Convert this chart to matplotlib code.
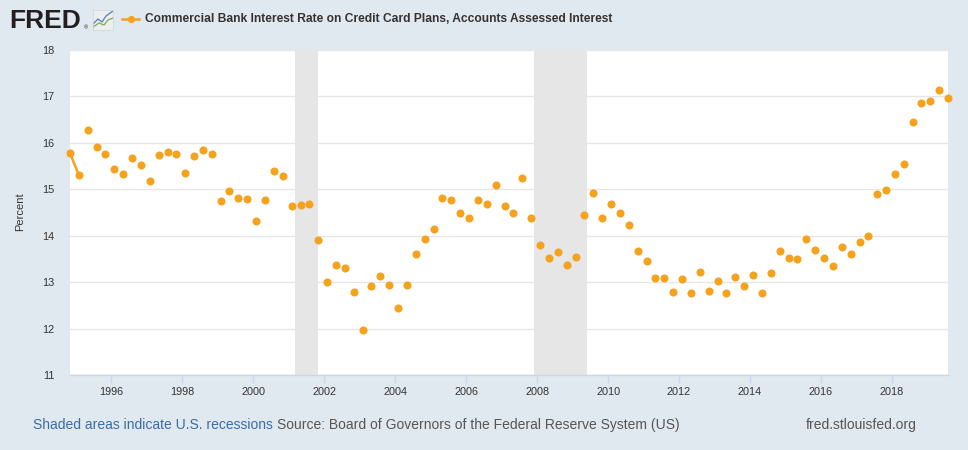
import matplotlib
matplotlib.use("Agg")
import matplotlib.pyplot as plt
import matplotlib.dates as mdates
import numpy as np
import pandas as pd

# Quarterly observations, Nov 1994 .. Aug 2019 (percent)
start_date = "1994-11-01"
rates = [
    15.78, 15.30, 16.27, 15.91, 15.75, 15.43, 15.34, 15.68, 15.53, 15.17,
    15.73, 15.80, 15.75, 15.35, 15.71, 15.85, 15.75, 14.75, 14.96, 14.82,
    14.80, 14.32, 14.78, 15.39, 15.28, 14.65, 14.67, 14.69, 13.91, 13.01,
    13.37, 13.30, 12.79, 11.98, 12.91, 13.14, 12.94, 12.44, 12.94, 13.61,
    13.93, 14.14, 14.82, 14.76, 14.50, 14.39, 14.78, 14.68, 15.09, 14.65,
    14.48, 15.24, 14.39, 13.79, 13.52, 13.65, 13.37, 13.55, 14.45, 14.92,
    14.39, 14.69, 14.50, 14.24, 13.68, 13.45, 13.08, 13.09, 12.79, 13.06,
    12.77, 13.22, 12.82, 13.03, 12.77, 13.12, 12.91, 13.15, 12.76, 13.19,
    13.68, 13.53, 13.50, 13.93, 13.70, 13.51, 13.35, 13.76, 13.61, 13.86,
    14.00, 14.90, 14.99, 15.32, 15.54, 16.46, 16.86, 16.91, 17.14, 16.97,
]
recessions = [("2001-03-01", "2001-11-01"), ("2007-12-01", "2009-06-01")]
tick_years = list(range(1996, 2019, 2))
y_ticks = list(range(11, 19))

title = "Commercial Bank Interest Rate on Credit Card Plans, Accounts Assessed Interest"
note = "Shaded areas indicate U.S. recessions"
source = "Source: Board of Governors of the Federal Reserve System (US)"
site = "fred.stlouisfed.org"

dates = pd.date_range(start_date, periods=len(rates), freq="3MS")
values = np.array(rates)

bg = "#e1e9f0"
orange = "#f5a21d"
plt.rcParams["font.family"] = ["Liberation Sans", "DejaVu Sans"]

fig = plt.figure(figsize=(9.68, 4.5), dpi=100, facecolor=bg)
ax = fig.add_axes([70 / 968, 1 - 375 / 450, 878 / 968, 325 / 450])
ax.set_facecolor("white")

for a, b in recessions:
    ax.axvspan(pd.Timestamp(a), pd.Timestamp(b), color="#e6e6e6", lw=0, zorder=1)

# only the first two observations are adjacent, the rest show as dots
ax.plot(dates[:2], values[:2], color=orange, lw=1.8, zorder=3, clip_on=False)
ax.plot(dates, values, ls="none", marker="o", ms=4.8, color=orange,
        mec=orange, zorder=4, clip_on=False)

ax.set_xlim(dates[0], dates[-1])
ax.set_ylim(11, 18)
ax.set_yticks(y_ticks)
ax.set_xticks([pd.Timestamp(f"{y}-01-01") for y in tick_years])
ax.xaxis.set_major_formatter(mdates.DateFormatter("%Y"))
ax.grid(axis="y", color="#e6e6e6", lw=1)
ax.set_axisbelow(True)
for s in ["top", "right", "left"]:
    ax.spines[s].set_visible(False)
ax.spines["bottom"].set_color("#ccd6eb")
ax.spines["bottom"].set_linewidth(1)
ax.tick_params(axis="y", length=0, pad=11, labelsize=7.8, labelcolor="#333333")
ax.tick_params(axis="x", length=6, width=1, color="#ccd6eb", pad=2.5,
               labelsize=7.8, labelcolor="#333333")
fig.text(20 / 968, 1 - 212 / 450, "Percent", rotation=90, fontsize=8,
         color="#333333", ha="center", va="center")

# header
fig.text(9 / 968, 1 - 20.5 / 450, "FRED", fontsize=19, fontweight="bold",
         color="#231f20", va="center")
fig.text(84 / 968, 1 - 28 / 450, "®", fontsize=4, color="#231f20", va="center")
icon = fig.add_axes([93 / 968, 1 - 30 / 450, 20 / 968, 20 / 450])
icon.set_facecolor("#eceef0")
icon.plot([0, 0.25, 0.45, 0.65, 1], [0.3, 0.55, 0.4, 0.7, 0.95], color="#4f80c0", lw=0.9)
icon.plot([0, 0.3, 0.55, 0.75, 1], [0.15, 0.35, 0.25, 0.5, 0.6], color="#7bb043", lw=0.9)
icon.set_xlim(0, 1)
icon.set_ylim(0, 1)
icon.set_xticks([])
icon.set_yticks([])
for s in icon.spines.values():
    s.set_color("#d0d4d8")
    s.set_linewidth(0.5)

fig.lines.append(plt.Line2D([122 / 968, 139 / 968], [1 - 19 / 450] * 2,
                            transform=fig.transFigure, color=orange, lw=1.8))
fig.lines.append(plt.Line2D([130.5 / 968], [1 - 19 / 450], transform=fig.transFigure,
                            marker="o", ms=4.2, color=orange))
fig.text(145 / 968, 1 - 19 / 450, title, fontsize=8.65, fontweight="bold",
         color="#333333", va="center")

# footer
fig.text(33 / 968, 1 - 425 / 450, note, fontsize=10, color="#3b6ba5", va="center")
fig.text(277 / 968, 1 - 425 / 450, source, fontsize=10, color="#555555", va="center")
fig.text(806 / 968, 1 - 425 / 450, site, fontsize=10, color="#555555", va="center")

fig.savefig("out.png", dpi=100, facecolor=bg)
